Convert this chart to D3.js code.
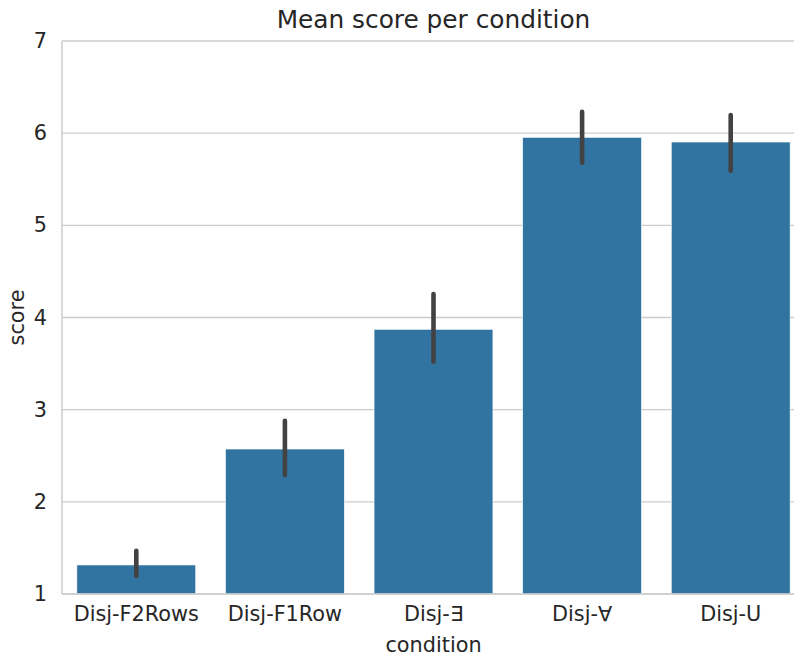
<!DOCTYPE html>
<html><head><meta charset="utf-8">
<script src="https://cdn.jsdelivr.net/npm/d3@7"></script>
<style>body{margin:0;background:#fff;} text{font-family:"DejaVu Sans",sans-serif;fill:#262626;}</style>
</head><body>
<svg id="c" width="794" height="658"></svg>
<script>
const categories = ["Disj-F2Rows","Disj-F1Row","Disj-\u2203","Disj-\u2200","Disj-U"];
const means = [1.315, 2.573, 3.872, 5.955, 5.904];
const ciLow = [1.195, 2.29, 3.52, 5.68, 5.593];
const ciHigh = [1.47, 2.88, 4.255, 6.233, 6.197];
const yTicks = [1,2,3,4,5,6,7];

const svg = d3.select("#c");
const m = {left:62, right:805, top:41, bottom:594};
const x = d3.scaleBand().domain(categories).range([m.left, m.right]).paddingInner(0.2).paddingOuter(0.1);
const y = d3.scaleLinear().domain([1,7]).range([m.bottom, m.top]);

// gridlines
svg.append("g").selectAll("line").data(yTicks).join("line")
  .attr("x1", m.left).attr("x2", m.right)
  .attr("y1", d=>y(d)).attr("y2", d=>y(d))
  .attr("stroke","#cccccc").attr("stroke-width",1.3);

// bars
svg.append("g").selectAll("rect").data(categories).join("rect")
  .attr("x", d=>x(d)).attr("width", x.bandwidth())
  .attr("y", (d,i)=>y(means[i])).attr("height",(d,i)=>y(1)-y(means[i]))
  .attr("fill","#3274a1").attr("stroke","#ffffff").attr("stroke-width",0.6);

// error bars
svg.append("g").selectAll("line").data(categories).join("line")
  .attr("x1", d=>x(d)+x.bandwidth()/2).attr("x2", d=>x(d)+x.bandwidth()/2)
  .attr("y1",(d,i)=>y(ciLow[i])).attr("y2",(d,i)=>y(ciHigh[i]))
  .attr("stroke","#424242").attr("stroke-width",4.6).attr("stroke-linecap","round");

// spines
svg.append("line").attr("x1",m.left).attr("x2",m.left).attr("y1",m.top).attr("y2",m.bottom)
  .attr("stroke","#cccccc").attr("stroke-width",1.5);
svg.append("line").attr("x1",m.left).attr("x2",m.right).attr("y1",m.bottom).attr("y2",m.bottom)
  .attr("stroke","#cccccc").attr("stroke-width",1.5);

// y axis
const ya = svg.append("g").attr("transform",`translate(${m.left},0)`)
  .call(d3.axisLeft(y).tickValues(yTicks).tickFormat(d3.format("d")).tickSize(0).tickPadding(15));
ya.select(".domain").remove();
ya.selectAll("text").style("font-size","20.8px").attr("fill","#262626").style("font-family","DejaVu Sans");

// x axis
const xa = svg.append("g").attr("transform",`translate(0,${m.bottom})`)
  .call(d3.axisBottom(x).tickSize(0).tickPadding(12));
xa.select(".domain").remove();
xa.selectAll("text").style("font-size","20.8px").attr("fill","#262626").style("font-family","DejaVu Sans");

// labels
svg.append("text").attr("x",(m.left+m.right)/2).attr("y",28).attr("text-anchor","middle")
  .style("font-size","24.8px").text("Mean score per condition");
svg.append("text").attr("x",(m.left+m.right)/2).attr("y",652).attr("text-anchor","middle")
  .style("font-size","20.8px").text("condition");
svg.append("text").attr("transform",`translate(24,${(m.top+m.bottom)/2}) rotate(-90)`).attr("text-anchor","middle")
  .style("font-size","20.8px").text("score");
</script>
</body></html>
